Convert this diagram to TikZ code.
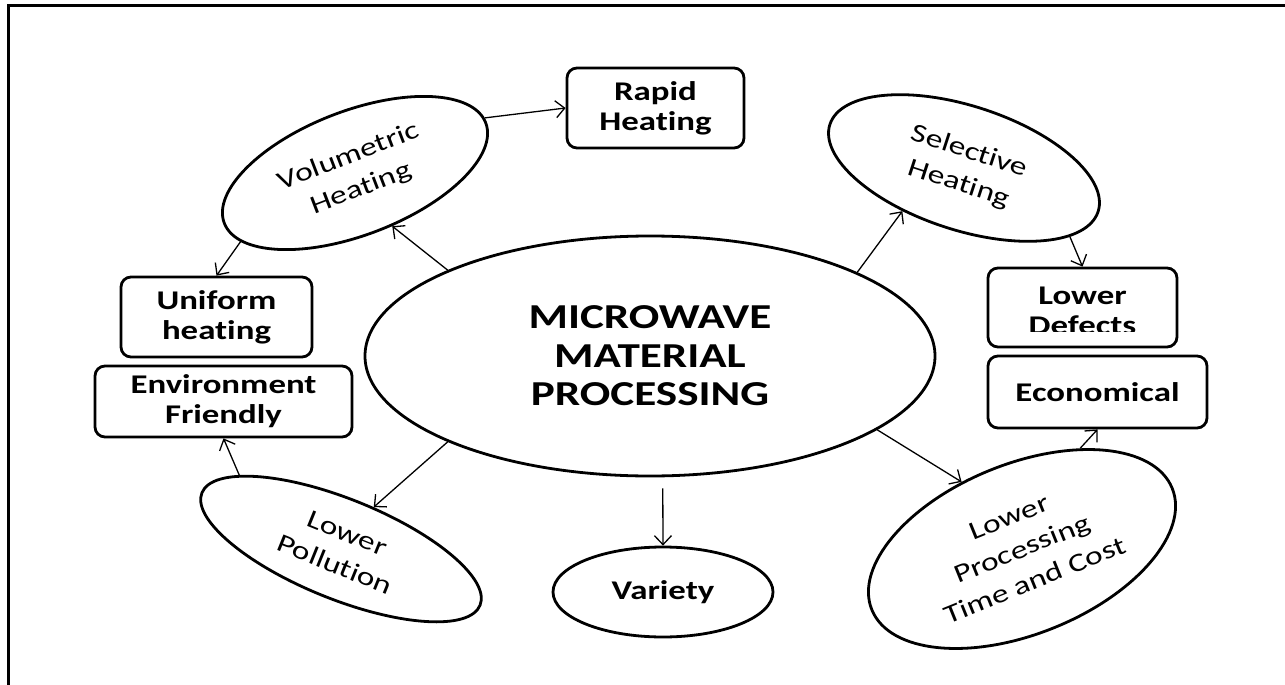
\documentclass[tikz,border=0pt]{standalone}
\usepackage{fontspec}
\setmainfont{Carlito}[FakeStretch=1.29, Ligatures=NoCommon]
\usetikzlibrary{shapes.geometric,arrows.meta}
\tikzset{
  ell/.style={ellipse, draw, line width=2.8pt, inner sep=0pt, align=center,
    font=\fontsize{26}{34}\selectfont},
  bx/.style={rectangle, rounded corners=10pt, draw, line width=2.8pt, inner sep=0pt,
    align=center, font=\fontsize{27}{30}\selectfont\bfseries},
  arr/.style={line width=1.3pt, -{Straight Barb[length=9pt,width=17pt]}},
}
\begin{document}
\begin{tikzpicture}[x=1pt,y=-1pt]
\useasboundingbox (0,0) rectangle (1285,685);
\draw[line width=3pt, line join=miter] (8,685) -- (8,6) -- (1285,6);

% central
\node[ell, minimum width=570pt, minimum height=240pt,
  font=\fontsize{35}{38.5}\selectfont\bfseries] (c) at (650,356)
  {MICROWAVE\\MATERIAL\\PROCESSING};

% ellipses
\node[ell, rotate=21, minimum width=280pt, minimum height=124pt] (vol) at (355,173) {Volumetric\\Heating};
\node[ell, rotate=-18, minimum width=282pt, minimum height=124pt] (sel) at (964,168) {Selective\\Heating};
\node[ell, rotate=-22, minimum width=300pt, minimum height=100pt] (lpol) at (341,549) {Lower\\Pollution};
\node[ell, rotate=22, minimum width=324pt, minimum height=170pt] (lproc) at (1022,549) {Lower\\Processing\\Time and Cost};
\node[ell, minimum width=220pt, minimum height=90pt, font=\fontsize{27}{30}\selectfont\bfseries] (var) at (663,592) {Variety};

% boxes
\node[bx, minimum width=177pt, minimum height=80pt] (rapid) at (655.5,108) {Rapid\\Heating};
\node[bx, minimum width=191pt, minimum height=80pt] (unif) at (216.5,317) {Uniform\\heating};
\node[bx, minimum width=257pt, minimum height=71pt] (env) at (223.5,401.5) {Environment\\Friendly};
\node[bx, minimum width=189pt, minimum height=79pt] (ldef) at (1082.5,307.5) {};
\begin{scope}
  \clip (990,270) rectangle (1175,331);
  \node[inner sep=0pt, align=center, font=\fontsize{27}{30}\selectfont\bfseries] (ldeft) at (1082.5,310.5) {Lower\\Defects};
\end{scope}
\node[bx, minimum width=219pt, minimum height=72pt] (econ) at (1097.5,392) {Economical};

% arrows
\draw[arr] (c.157.5) -- (vol.284);
\draw[arr] (vol.2) -- (rapid.west);
\draw[arr] (vol.190) -- (unif.north);
\draw[arr] (c.22.7) -- (sel.233);
\draw[arr] (sel.345) -- (ldef.north);
\draw[arr] (c.203) -- (lpol.74);
\draw[arr] (lpol.166) -- (env.south);
\draw[arr, shorten <=11pt] (c.276.2) -- (var.north);
\draw[arr] (c.342.6) -- (lproc.110);
\draw[arr] (lproc.38) -- (econ.south);
\end{tikzpicture}
\end{document}
